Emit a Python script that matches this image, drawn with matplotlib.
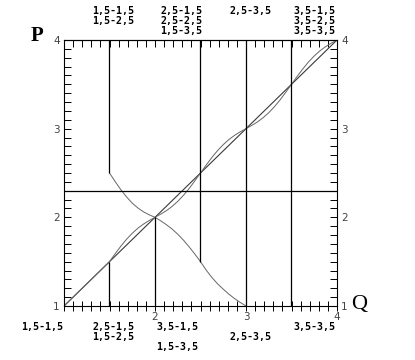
import matplotlib
matplotlib.use("Agg")
import matplotlib.pyplot as plt
import numpy as np

# ---------------- data ----------------
# diagonal reference line
diag_q = [1.0, 4.0]
diag_p = [1.0, 4.0]

# wavy rising curve
wave_q = [1.0, 1.25, 1.5, 1.5625, 1.625, 1.6875, 1.75, 1.8125, 1.875, 1.9375, 2.0,
          2.0625, 2.125, 2.1875, 2.25, 2.3125, 2.375, 2.4375, 2.5,
          2.5625, 2.625, 2.6875, 2.75, 2.8125, 2.875, 2.9375, 3.0,
          3.0625, 3.125, 3.1875, 3.25, 3.3125, 3.375, 3.4375, 3.5,
          3.5625, 3.625, 3.6875, 3.75, 3.8125, 3.875, 3.9375, 4.0]
wave_p = [1.0, 1.25, 1.5, 1.590, 1.675, 1.753, 1.820, 1.878, 1.925, 1.965, 2.0,
          2.036, 2.075, 2.123, 2.180, 2.248, 2.325, 2.411, 2.5,
          2.590, 2.675, 2.753, 2.820, 2.878, 2.925, 2.965, 3.0,
          3.036, 3.075, 3.123, 3.180, 3.248, 3.325, 3.411, 3.5,
          3.590, 3.675, 3.753, 3.820, 3.878, 3.925, 3.965, 4.0]

# falling curve
fall_q = [1.5, 1.5625, 1.625, 1.6875, 1.75, 1.8125, 1.875, 1.9375, 2.0,
          2.0625, 2.125, 2.1875, 2.25, 2.3125, 2.375, 2.4375, 2.5,
          2.5625, 2.625, 2.6875, 2.75, 2.8125, 2.875, 2.9375, 3.0]
fall_p = [2.5, 2.403, 2.311, 2.230, 2.160, 2.105, 2.061, 2.028, 2.0,
          1.961, 1.917, 1.868, 1.810, 1.743, 1.667, 1.586, 1.5,
          1.405, 1.322, 1.250, 1.190, 1.133, 1.083, 1.040, 1.0]

# vertical segments: Q position, P from, P to
vseg_q = [1.5, 1.5, 2.0, 2.5, 3.0, 3.5]
vseg_lo = [2.5, 1.0, 1.0, 1.5, 1.0, 1.0]
vseg_hi = [4.0, 1.5, 2.0, 4.0, 4.0, 4.0]

# horizontal line
hline_p = 2.3

# axis ticks
major_ticks = [1, 2, 3, 4]
x_tick_labels = ["", "2", "3", "4"]
y_tick_labels = ["1", "2", "3", "4"]

# annotation texts
top_labels = ["1,5-1,5\n1,5-2,5",
              "2,5-1,5\n2,5-2,5\n1,5-3,5",
              "2,5-3,5",
              "3,5-1,5\n3,5-2,5\n3,5-3,5"]
bottom_labels = ["1,5-1,5",
                 "2,5-1,5\n1,5-2,5",
                 "3,5-1,5\n\n1,5-3,5",
                 "\n2,5-3,5",
                 "3,5-3,5"]

# ---------------- figure ----------------
W, H = 415, 360
fig = plt.figure(figsize=(W / 100, H / 100), dpi=100)
ax = fig.add_axes([64 / W, 54 / H, 273 / W, 266 / H])

ax.plot(diag_q, diag_p, color="#3a3a3a", lw=0.8)
ax.plot(wave_q, wave_p, color="#666666", lw=0.7)
ax.plot(fall_q, fall_p, color="#666666", lw=0.7)
ax.vlines(vseg_q, vseg_lo, vseg_hi, color="black", lw=0.9)
ax.axhline(hline_p, color="black", lw=0.9)

ax.set_xlim(1, 4)
ax.set_ylim(1, 4)

for s in ax.spines.values():
    s.set_linewidth(0.8)

minor = np.arange(1, 4.001, 0.1)
ax.set_xticks(major_ticks)
ax.set_yticks(major_ticks)
ax.set_xticklabels(x_tick_labels)
ax.set_yticklabels(y_tick_labels)
ax.set_xticks(minor, minor=True)
ax.set_yticks(minor, minor=True)

ax.tick_params(axis="x", which="both", direction="inout", length=7, width=0.7,
               top=False, bottom=True, labelsize=7.5, labelcolor="#444444", pad=1)
ax.tick_params(axis="y", which="both", direction="in", length=5, width=0.7,
               left=True, right=True, labelleft=True, labelright=True,
               labelsize=7.5, labelcolor="#444444", pad=3)

top = ax.secondary_xaxis("top")
top.set_xticks(major_ticks)
top.set_xticklabels([])
top.set_xticks(minor, minor=True)
top.tick_params(axis="x", which="both", direction="in", length=5, width=0.7)

# axis titles
fig.text(37 / W, 1 - 36 / H, "P", family="Liberation Serif", fontsize=15,
         fontweight="bold", ha="center", va="center")
fig.text(359 / W, 1 - 304 / H, "Q", family="Liberation Serif", fontsize=16,
         ha="center", va="center")

lab_font = dict(family="DejaVu Sans Mono", fontsize=7.2, fontweight="bold",
                linespacing=1.0)

top_x = [113, 181, 250, 314]
for txt, x in zip(top_labels, top_x):
    fig.text(x / W, 1 - 6 / H, txt, ha="center", va="top", **lab_font)

bottom_x = [42, 113, 177, 250, 314]
for txt, x in zip(bottom_labels, bottom_x):
    fig.text(x / W, 1 - 322 / H, txt, ha="center", va="top", **lab_font)

fig.savefig("out.png", dpi=100)
